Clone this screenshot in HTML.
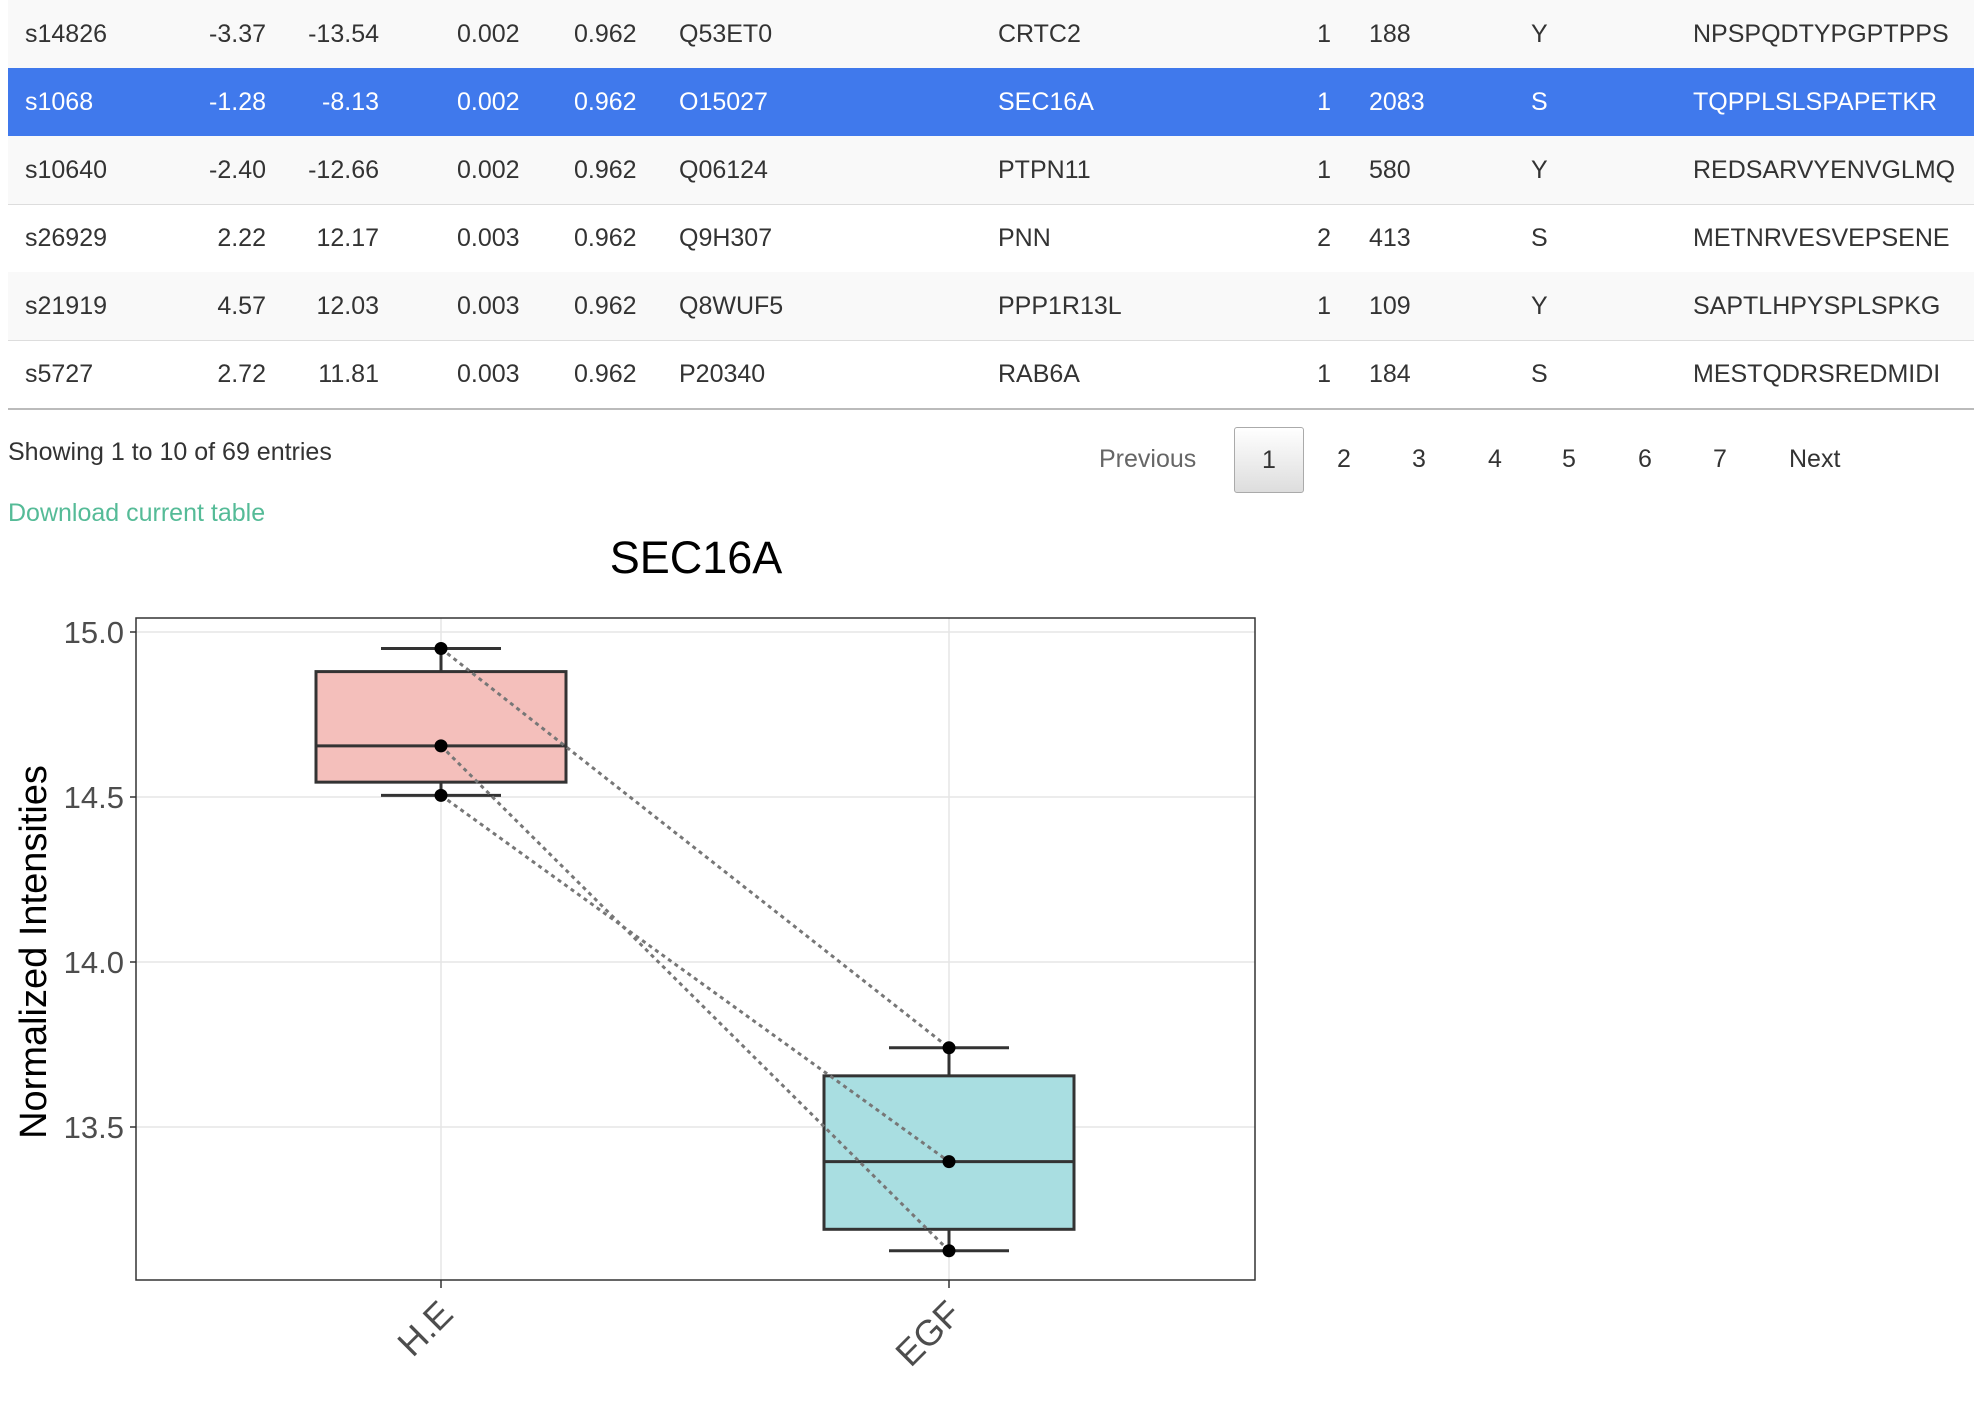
<!DOCTYPE html>
<html><head><meta charset="utf-8">
<style>
body{margin:0;width:1974px;height:1402px;background:#fff;overflow:hidden;font-family:"Liberation Sans",sans-serif;position:relative;color:#333}
.row{position:absolute;left:8px;width:1966px;height:68px;border-bottom:1px solid #ddd;font-size:25px}
.row span{position:absolute;top:20px;white-space:nowrap}
.odd{background:#f9f9f9}
.sel{background:#4079ec;color:#fff}
.pg{position:absolute;top:445px;font-size:25px;color:#333}
</style></head><body>
<div id="table"></div>
<div style="position:absolute;left:8px;top:438px;font-size:25px">Showing 1 to 10 of 69 entries</div>
<div style="position:absolute;left:8px;top:499px;font-size:25px;color:#55bb97">Download current table</div>
<div class="pg" style="left:1099px;color:#666">Previous</div>
<div style="position:absolute;left:1234px;top:427px;width:70px;height:66px;border:1px solid #aaa;border-radius:3px;background:linear-gradient(#fff,#ddd);box-sizing:border-box;font-size:25px;text-align:center;line-height:64px">1</div>
<div class="pg" style="left:1337px">2</div>
<div class="pg" style="left:1412px">3</div>
<div class="pg" style="left:1488px">4</div>
<div class="pg" style="left:1562px">5</div>
<div class="pg" style="left:1638px">6</div>
<div class="pg" style="left:1713px">7</div>
<div class="pg" style="left:1789px">Next</div>
<svg id="chart" width="1974" height="1402" style="position:absolute;left:0;top:0" font-family="Liberation Sans, sans-serif"></svg>
<script>
const rows=[["s14826","-3.37","-13.54","0.002","0.962","Q53ET0","CRTC2","1","188","Y","NPSPQDTYPGPTPPS"],
["s1068","-1.28","-8.13","0.002","0.962","O15027","SEC16A","1","2083","S","TQPPLSLSPAPETKR"],
["s10640","-2.40","-12.66","0.002","0.962","Q06124","PTPN11","1","580","Y","REDSARVYENVGLMQ"],
["s26929","2.22","12.17","0.003","0.962","Q9H307","PNN","2","413","S","METNRVESVEPSENE"],
["s21919","4.57","12.03","0.003","0.962","Q8WUF5","PPP1R13L","1","109","Y","SAPTLHPYSPLSPKG"],
["s5727","2.72","11.81","0.003","0.962","P20340","RAB6A","1","184","S","MESTQDRSREDMIDI"]];
const cols=[[25,'l'],[266,'r'],[379,'r'],[457,'l'],[574,'l'],[679,'l'],[998,'l'],[1331,'r'],[1369,'l'],[1531,'l'],[1693,'l']];
const tb=document.getElementById('table');
rows.forEach((r,i)=>{const d=document.createElement('div');


d.className='row '+(i==1?'sel':(i%2==0?'odd':''));d.style.top=(i*68)+'px';
if(i==5)d.style.borderBottom='2px solid #bbb';
r.forEach((t,j)=>{const s=document.createElement('span');s.textContent=t;
const [x,a]=cols[j];if(a=='r'){s.style.right=(1966-(x-8))+'px';}else s.style.left=(x-8)+'px';d.appendChild(s);});
tb.appendChild(d);});

const categories=["H.E","EGF"];
const q0=[14.505,13.125],q1=[14.545,13.19],med=[14.655,13.395],q3=[14.88,13.655],q4=[14.95,13.74];
const pointsHE=[14.95,14.655,14.505];
const pointsEGF=[13.74,13.125,13.395];
const yTicks=[13.5,14.0,14.5,15.0];
const fills=["#f4bfbb","#a9dee1"];
const svg=document.getElementById('chart');const NS="http://www.w3.org/2000/svg";
const L=136,R=1255,T=618,B=1280;
const y=v=>632+(15-v)*330;
const x=i=>[441,949][i];
function el(t,a,name){const e=document.createElementNS(NS,t);for(const k in a)e.setAttribute(k,a[k]);


svg.appendChild(e);return e;}
el('text',{x:696,y:573,'font-size':45,'text-anchor':'middle',fill:'#000'},'chart-title').textContent="SEC16A";
yTicks.forEach(v=>{el('line',{x1:L,x2:R,y1:y(v),y2:y(v),stroke:'#e5e5e5','stroke-width':1.5},'y-gridline');
el('line',{x1:L-6,x2:L,y1:y(v),y2:y(v),stroke:'#333','stroke-width':1.5},'y-tick');
el('text',{x:L-12,y:y(v)+11,'font-size':31,'text-anchor':'end',fill:'#4d4d4d'},'y-tick-label').textContent=v.toFixed(1);});
categories.forEach((c,i)=>{el('line',{x1:x(i),x2:x(i),y1:T,y2:B,stroke:'#e5e5e5','stroke-width':1.5},'x-gridline');
el('line',{x1:x(i),x2:x(i),y1:B,y2:B+8,stroke:'#333','stroke-width':1.5},'x-tick');
const t=el('text',{x:0,y:0,'font-size':36,'text-anchor':'end',fill:'#4d4d4d',transform:`translate(${x(i)+14},${B+36}) rotate(-45)`},'x-tick-label');t.textContent=c;});
categories.forEach((c,i)=>{const cx=x(i);
el('line',{x1:cx,x2:cx,y1:y(q4[i]),y2:y(q3[i]),stroke:'#333','stroke-width':3},'whisker-upper');
el('line',{x1:cx,x2:cx,y1:y(q1[i]),y2:y(q0[i]),stroke:'#333','stroke-width':3},'whisker-lower');
el('line',{x1:cx-60,x2:cx+60,y1:y(q4[i]),y2:y(q4[i]),stroke:'#333','stroke-width':3},'whisker-cap');
el('line',{x1:cx-60,x2:cx+60,y1:y(q0[i]),y2:y(q0[i]),stroke:'#333','stroke-width':3},'whisker-cap');
el('rect',{x:cx-125,y:y(q3[i]),width:250,height:y(q1[i])-y(q3[i]),fill:fills[i],stroke:'#333','stroke-width':3},'box-'+c.toLowerCase().replace('.',''));
el('line',{x1:cx-125,x2:cx+125,y1:y(med[i]),y2:y(med[i]),stroke:'#333','stroke-width':3},'median-line');});
pointsHE.forEach((v,k)=>el('line',{x1:x(0),y1:y(v),x2:x(1),y2:y(pointsEGF[k]),stroke:'#777','stroke-width':3,'stroke-dasharray':'4,4'},'paired-line'));
pointsHE.forEach(v=>el('circle',{cx:x(0),cy:y(v),r:6.5,fill:'#000'},'point-he'));
pointsEGF.forEach(v=>el('circle',{cx:x(1),cy:y(v),r:6.5,fill:'#000'},'point-egf'));
el('rect',{x:L,y:T,width:R-L,height:B-T,fill:'none',stroke:'#333','stroke-width':1.5},'plot-panel');
el('text',{x:0,y:0,'font-size':38,'text-anchor':'middle',fill:'#000',transform:'translate(46,952) rotate(-90)'},'y-axis-title').textContent="Normalized Intensities";
</script>
</body></html>
